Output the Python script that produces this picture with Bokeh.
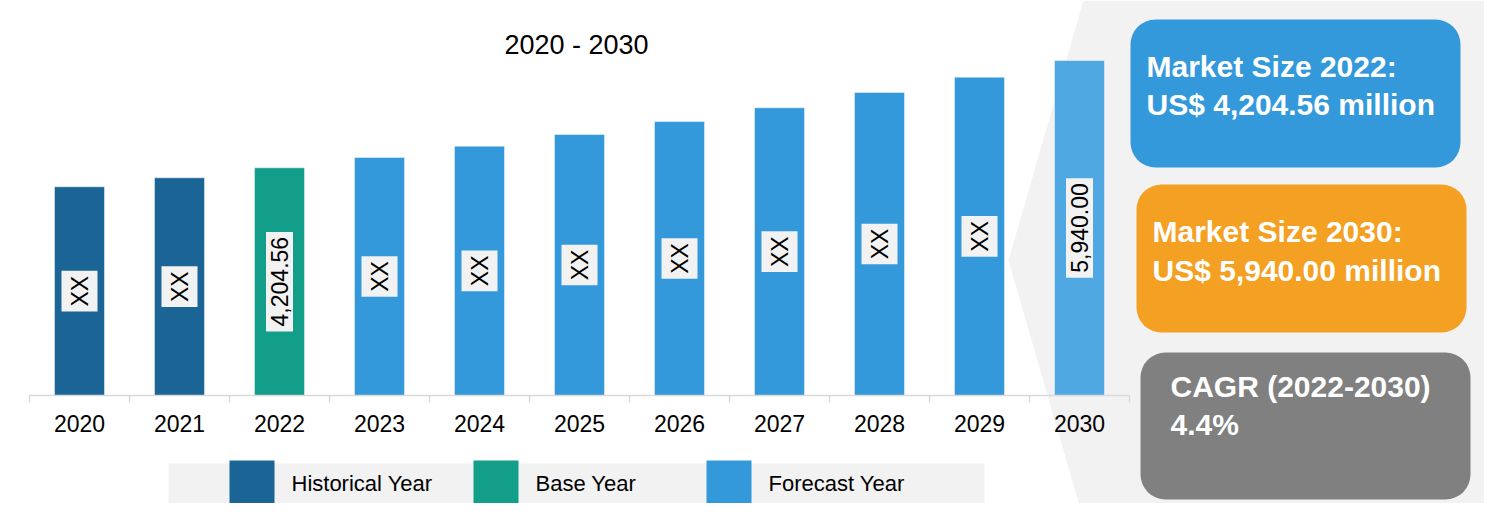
from math import pi
from bokeh.plotting import figure
from bokeh.models import Range1d, LinearAxis, FixedTicker, ColumnDataSource
from bokeh.core.properties import value
from bokeh.embed import file_html
from bokeh.resources import INLINE

# ---------------- data ----------------
years = ["2020", "2021", "2022", "2023", "2024", "2025", "2026", "2027", "2028", "2029", "2030"]
market_size = [3897, 4043, 4204.56, 4371, 4554, 4743, 4953, 5175, 5423, 5670, 5940.00]
bar_labels = ["XX", "XX", "4,204.56", "XX", "XX", "XX", "XX", "XX", "XX", "XX", "5,940.00"]
periods = ["Historical Year", "Historical Year", "Base Year", "Forecast Year", "Forecast Year",
           "Forecast Year", "Forecast Year", "Forecast Year", "Forecast Year", "Forecast Year",
           "Forecast Year"]
legend_labels = ["Historical Year", "Base Year", "Forecast Year"]
title_text = "2020 - 2030"
size_2022 = "4,204.56"
size_2030 = "5,940.00"
cagr_period = "2022-2030"
cagr_value = "4.4%"

# ---------------- styles ----------------
FONT = "Liberation Sans"
period_colors = {"Historical Year": "#1a6496", "Base Year": "#139e8a", "Forecast Year": "#3399db"}
HIGHLIGHT = "#50a8e2"
PANEL = "#f2f2f2"

# value scale: baseline value sits on the axis line
BASE_VALUE = 522.0
PX_PER_UNIT = 0.06183
AXIS_PX = 395
W, H, OFF = 1484, 503, 0

y_start = BASE_VALUE - (OFF + H - AXIS_PX) / PX_PER_UNIT
y_end = BASE_VALUE + (AXIS_PX - OFF) / PX_PER_UNIT

colors = [period_colors[pr] for pr in periods]
colors[-1] = HIGHLIGHT  # final year highlighted

idx = list(range(len(years)))
src = ColumnDataSource(dict(
    x=idx,
    top=market_size,
    mid=[(BASE_VALUE + v) / 2 for v in market_size],
    label=bar_labels,
    color=colors,
))

p = figure(width=W, height=H,
           x_range=Range1d((OFF - 79) / 100, (OFF + W - 79) / 100),
           y_range=Range1d(y_start, y_end),
           output_backend="svg", toolbar_location=None, min_border=0,
           x_axis_location=None, y_axis_location=None,
           background_fill_color="white", border_fill_color="white",
           outline_line_color=None)
p.grid.visible = False
p.extra_x_ranges = {"px": Range1d(OFF, OFF + W)}
p.extra_y_ranges = {"px": Range1d(OFF + H, OFF)}
PXR = dict(x_range_name="px", y_range_name="px")

# right grey panel
p.patch([1083, 1008, 1083, 1500, 1500], [0, 260, 519, 519, 0],
        fill_color=PANEL, line_color=None, **PXR)

# bars
p.vbar(x="x", top="top", bottom=BASE_VALUE, width=0.5, fill_color="color",
       line_color="white", line_alpha=0.45, line_width=1, source=src)

# bar value labels
p.text(x="x", y="mid", text="label", angle=pi / 2, text_align="center",
       text_baseline="middle", text_font=value(FONT), text_font_size="23px",
       text_color="black", background_fill_color=PANEL, padding=5, source=src)

# x axis on the baseline
ax = LinearAxis(
    ticker=FixedTicker(ticks=idx, minor_ticks=[i - 0.5 for i in range(len(years) + 1)]),
    fixed_location=BASE_VALUE,
    bounds=(-0.5, len(years) - 0.5),
    major_label_overrides={i: y for i, y in zip(idx, years)},
    axis_line_color="#d9d9d9", axis_line_width=1.5,
    major_tick_line_color=None, major_tick_in=0, major_tick_out=0,
    minor_tick_line_color="#d9d9d9", minor_tick_line_width=1.5,
    minor_tick_in=0, minor_tick_out=7,
    major_label_standoff=12,
    major_label_text_font=FONT, major_label_text_font_size="23px",
    major_label_text_color="black",
)
p.add_layout(ax, "below")

# title
p.text(x=[576], y=[44], text=[title_text], text_align="center", text_baseline="middle",
       text_font=value(FONT), text_font_size="27px", text_color="black", **PXR)

# legend
p.quad(left=[168], right=[984], top=[463], bottom=[503], fill_color=PANEL,
       line_color=None, **PXR)
sw_left = [229, 473, 706]
p.quad(left=sw_left, right=[x + 45 for x in sw_left], top=[460] * 3, bottom=[505] * 3,
       fill_color=[period_colors[l] for l in legend_labels], line_color=None, **PXR)
p.text(x=[x + 62 for x in sw_left], y=[483] * 3, text=legend_labels, text_align="left",
       text_baseline="middle", text_font=value(FONT), text_font_size="22px",
       text_color="black", **PXR)

# info boxes
p.quad(left=[1130, 1136, 1140], right=[1460, 1466, 1470], top=[19, 184, 352],
       bottom=[167, 332, 499], fill_color=["#3399db", "#f4a023", "#808080"],
       line_color=None, border_radius=25, **PXR)
box_lines = [
    "Market Size 2022:", "US$ " + size_2022 + " million",
    "Market Size 2030:", "US$ " + size_2030 + " million",
    "CAGR (" + cagr_period + ")", cagr_value,
]
p.text(x=[1146, 1146, 1152, 1152, 1170, 1170],
       y=[66, 104, 231, 270, 386, 424],
       text=box_lines, text_align="left", text_baseline="middle",
       text_font=value(FONT), text_font_size="30px", text_font_style="bold",
       text_color="white", **PXR)

open("out.html", "w").write(file_html(p, INLINE))
